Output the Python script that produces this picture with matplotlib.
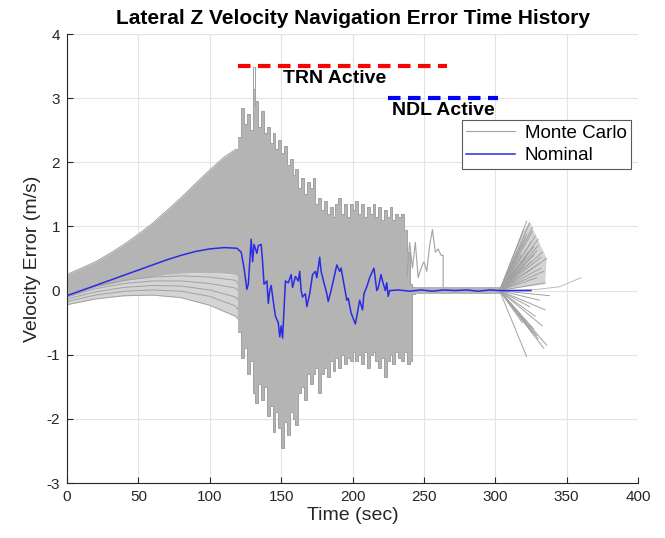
import numpy as np
import matplotlib
matplotlib.use('Agg')
import matplotlib.pyplot as plt

plt.rcParams['font.family'] = ['Liberation Sans', 'DejaVu Sans']
plt.rcParams['axes.unicode_minus'] = False

# ---- values ----
# Monte Carlo spread, smooth growth phase
p1_t  = [0, 10, 20, 30, 40, 50, 60, 70, 80, 90, 100, 110, 118, 120]
p1_hi = [0.25, 0.35, 0.45, 0.58, 0.72, 0.88, 1.05, 1.25, 1.45, 1.67, 1.88, 2.08, 2.2, 2.2]
p1_lo = [-0.1, -0.02, 0.05, 0.1, 0.15, 0.19, 0.22, 0.25, 0.27, 0.28, 0.28, 0.27, 0.25, 0.2]

# the separate lower runs below the main bundle
low_t = [0, 20, 40, 60, 80, 100, 118, 120]
low_runs = [
    [-0.22, -0.13, -0.08, -0.07, -0.11, -0.23, -0.40, -0.45],
    [-0.17, -0.07, -0.01, 0.01, -0.01, -0.09, -0.24, -0.30],
    [-0.13, -0.02, 0.05, 0.08, 0.07, 0.01, -0.10, -0.15],
    [-0.10, 0.03, 0.11, 0.15, 0.15, 0.11, 0.04, 0.00],
    [-0.07, 0.07, 0.16, 0.21, 0.23, 0.21, 0.16, 0.10],
]
# upper edge of the sparse lower strip (bundle floor at the same times)
low_top = [-0.1, 0.05, 0.15, 0.22, 0.27, 0.28, 0.25, 0.2]

# Monte Carlo spread while TRN is active (stepped)
p2_t = [120, 122, 124, 126, 128, 130, 132, 134, 136, 138, 140, 142, 144, 146, 148, 150,
        152, 154, 156, 158, 160, 162, 164, 166, 168, 170, 172, 174, 176, 178, 180, 182,
        184, 186, 188, 190, 192, 194, 196, 198, 200, 202, 204, 206, 208, 210, 212, 214,
        216, 218, 220, 222, 224, 226, 228, 230, 232, 234, 236, 238, 240, 242, 244]
p2_hi = [2.4, 2.85, 2.6, 2.75, 2.5, 3.15, 2.95, 2.55, 2.8, 2.45, 2.55, 2.3, 2.45, 2.2, 2.35, 2.15,
         2.25, 1.95, 2.05, 1.8, 1.9, 1.6, 1.75, 1.5, 1.7, 1.6, 1.75, 1.35, 1.45, 1.25, 1.4, 1.2,
         1.3, 1.15, 1.35, 1.45, 1.2, 1.35, 1.15, 1.35, 1.25, 1.4, 1.2, 1.35, 1.15, 1.3, 1.2, 1.35,
         1.15, 1.3, 1.1, 1.25, 1.15, 1.3, 1.1, 1.2, 1.15, 1.2, 0.95, 0.6, 0.1, 0.05, 0.05]
p2_lo = [-0.65, -1.05, -0.9, -1.3, -1.1, -1.6, -1.75, -1.45, -1.7, -1.5, -1.95, -1.8, -2.2, -1.9, -2.15, -2.45,
         -2.05, -2.25, -1.9, -2.0, -2.1, -1.6, -1.5, -1.7, -1.3, -1.45, -1.3, -1.2, -1.6, -1.3, -1.2, -1.35,
         -1.1, -1.25, -1.05, -1.2, -1.0, -1.15, -1.05, -1.1, -0.95, -1.1, -1.0, -1.15, -0.95, -1.2, -1.0, -0.95,
         -1.1, -1.2, -1.05, -1.35, -1.1, -1.0, -1.15, -0.95, -1.05, -1.1, -0.95, -1.15, -1.1, -0.05, -0.05]

# tall single spike near 131 s
spike_t = [130.5, 130.5, 131.5, 131.5]
spike_v = [2.8, 3.48, 3.48, 2.9]

# one run that stays wild after NDL comes on
wild_t = [238, 240, 242, 244, 246, 248, 250, 252, 254, 256, 258, 260, 262, 263.5, 263.5]
wild_v = [0.2, 0.75, 0.35, 0.75, 0.2, 0.35, 0.45, 0.3, 0.7, 0.95, 0.6, 0.65, 0.55, 0.55, 0.0]

# quiet band during NDL
band_t  = [244, 303]
band_hi = [0.05, 0.05]
band_lo = [-0.05, -0.05]

# fan after NDL ends: dense upper part outline and end points of each run
fan_t0, fan_v0 = 303, 0.0
hull_t = [303, 318, 324, 336, 335, 303]
hull_v = [0.0, 0.85, 1.08, 0.5, 0.1, 0.0]
fan_end_t = [322, 324, 320, 326, 328, 325, 330, 333, 336, 327, 331, 334, 318, 321, 329,
             335, 332, 323, 325, 329, 323, 321, 336, 330, 326, 333, 319, 328, 335, 324,
             331, 338, 327, 322, 334, 318, 326, 330, 322, 327, 332, 320, 329]
fan_end_v = [1.08, 1.05, 0.95, 0.92, 0.85, 0.75, 0.7, 0.6, 0.5, 0.55, 0.42, 0.3, 0.7, 0.82, 0.2,
             0.12, 0.35, 0.6, 0.45, 0.62, 0.3, 0.5, -0.85, -0.75, -0.65, -0.55, -0.5, -0.4, -0.3, -0.25,
             -0.15, -0.08, -0.6, -1.03, -0.9, 0.55, 0.98, 0.8, 0.88, 0.68, 0.52, 0.38, -0.7]
tail_t = [303, 330, 345, 360]
tail_v = [0.0, 0.02, 0.06, 0.2]

# nominal run
nom_t = [0, 10, 20, 30, 40, 50, 60, 70, 80, 90, 100, 110, 119, 122, 124, 126, 127, 129,
         130, 131, 133, 134, 136, 137, 138, 140, 141, 142, 143, 145, 146, 148, 149, 150,
         151, 152, 153, 155, 157, 158, 160, 162, 163, 164, 165, 167, 168, 170, 172, 174,
         175, 177, 178, 180, 182, 183, 185, 187, 189, 191, 192, 194, 196, 197, 199, 202,
         203, 205, 207, 208, 210, 212, 215, 217, 218, 220, 221, 223, 224, 225, 226, 232,
         240, 248, 256, 264, 272, 280, 288, 296, 303, 325]
nom_v = [-0.08, 0.0, 0.08, 0.16, 0.24, 0.32, 0.40, 0.48, 0.55, 0.61, 0.65, 0.67, 0.66, 0.6, 0.35, 0.02, 0.1, 0.8,
         0.45, 0.72, 0.58, 0.7, 0.72, 0.45, 0.1, 0.15, -0.2, 0.0, 0.08, -0.25, -0.4, -0.5, -0.72, -0.55,
         -0.74, -0.3, 0.15, 0.12, 0.25, 0.05, 0.22, 0.15, 0.3, 0.0, -0.1, -0.05, -0.25, -0.05, 0.25, 0.3,
         0.2, 0.52, 0.3, 0.12, -0.05, -0.17, 0.0, 0.2, 0.4, 0.3, 0.35, 0.1, -0.15, -0.12, -0.35, -0.52,
         -0.4, -0.15, -0.3, -0.05, 0.06, 0.2, 0.35, 0.0, 0.04, 0.25, 0.15, 0.0, 0.12, -0.09, 0.0, 0.01,
         -0.01, 0.01, -0.01, 0.01, 0.0, 0.01, -0.01, 0.01, 0.0, 0.0]

# phases
trn_span, trn_level = [120, 266], 3.5
ndl_span, ndl_level = [225, 302], 3.0

gray = '#b4b4b4'
light = '#d4d4d4'
edge = '#a2a2a2'
nom_col = '#2b2be6'

fig = plt.figure(figsize=(6.65, 5.38), dpi=100)
ax = fig.add_axes([0.1008, 0.1022, 0.8586, 0.8346])

# Monte Carlo bundle
ax.fill_between(low_t, low_runs[0], low_top, color=light, lw=0, zorder=2)
ax.fill_between(p1_t, p1_lo, p1_hi, color=gray, lw=0, zorder=2)
ax.plot(p1_t, p1_hi, color=edge, lw=0.7, zorder=2)
for run in low_runs:
    ax.plot(low_t, run, color=edge, lw=0.7, zorder=2)
ax.fill_between(p2_t, p2_lo, p2_hi, step='post', color=gray, lw=0, zorder=2)
ax.step(p2_t, p2_hi, where='post', color=edge, lw=0.7, zorder=2)
ax.step(p2_t, p2_lo, where='post', color=edge, lw=0.7, zorder=2)
ax.plot(spike_t, spike_v, color=edge, lw=0.7, zorder=2)
ax.plot(wild_t, wild_v, color=edge, lw=0.8, zorder=2)
ax.fill_between(band_t, band_lo, band_hi, color=gray, lw=0, zorder=2)
ax.fill(hull_t, hull_v, color=light, lw=0, zorder=2)
for te, ve in zip(fan_end_t, fan_end_v):
    ax.plot([fan_t0, te], [fan_v0, ve], color=edge, lw=0.7, zorder=2)
ax.plot(tail_t, tail_v, color='#bbbbbb', lw=0.7, zorder=2)

# legend proxy for the gray runs
ax.plot([], [], color=edge, lw=0.8, label='Monte Carlo')
ax.plot(nom_t, nom_v, color=nom_col, lw=1.1, zorder=4, label='Nominal')

# active phases
ax.plot(trn_span, [trn_level] * 2, color='#ff0000', lw=3, ls=(0, (3, 1.8)), zorder=5)
ax.plot(ndl_span, [ndl_level] * 2, color='#0000ff', lw=3, ls=(0, (3, 1.8)), zorder=5)
ax.text(151, 3.24, 'TRN Active', fontsize=14, fontweight='bold', ha='left', va='baseline', zorder=6)
ax.text(227.5, 2.74, 'NDL Active', fontsize=14, fontweight='bold', ha='left', va='baseline', zorder=6)

ax.set_xlim(0, 400)
ax.set_ylim(-3, 4)
ax.set_xticks(np.arange(0, 401, 50))
ax.set_yticks(np.arange(-3, 5, 1))
ax.grid(True, color='#e3e3e3', lw=0.8, zorder=0)
ax.set_axisbelow(True)
for s in ['top', 'right']:
    ax.spines[s].set_visible(False)
for s in ['left', 'bottom']:
    ax.spines[s].set_color('#262626')
    ax.spines[s].set_linewidth(0.8)
ax.tick_params(direction='in', length=4, width=0.8, labelsize=11, colors='#262626', pad=5)

ax.set_title('Lateral Z Velocity Navigation Error Time History', fontsize=15,
             fontweight='bold', pad=7)
ax.set_xlabel('Time (sec)', fontsize=14, color='#262626', labelpad=2)
ax.set_ylabel('Velocity Error (m/s)', fontsize=14, color='#262626', labelpad=4)

leg = ax.legend(loc='upper right', bbox_to_anchor=(0.988, 0.8085), borderaxespad=0,
                fontsize=13.5, handlelength=2.6, handletextpad=0.5, labelspacing=0.28,
                borderpad=0.25, fancybox=False, framealpha=1)
leg.get_frame().set_edgecolor('#5a5a5a')
leg.get_frame().set_linewidth(0.8)

fig.savefig('out.png', dpi=100)
